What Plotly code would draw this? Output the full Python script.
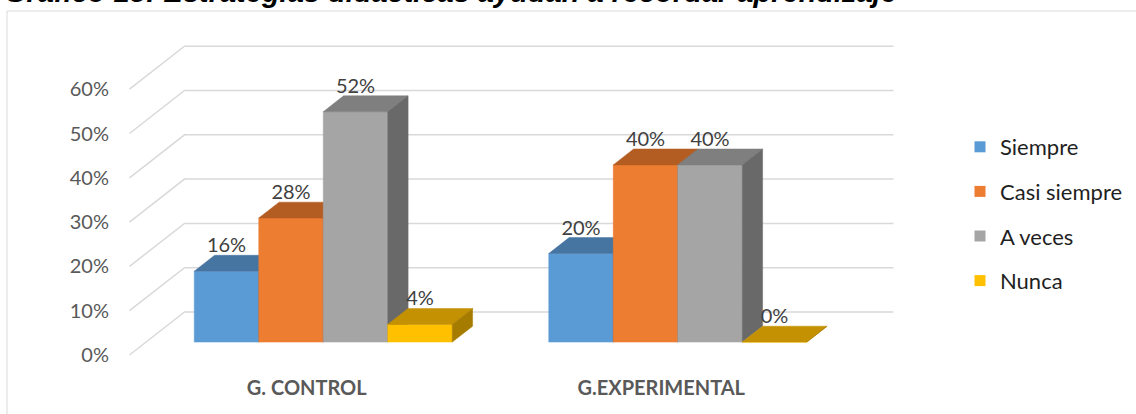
import plotly.graph_objects as go

# ---------------- data ----------------
categories = ["G. CONTROL", "G.EXPERIMENTAL"]
series_names = ["Siempre", "Casi siempre", "A veces", "Nunca"]
siempre = [16, 20]
casi_siempre = [28, 40]
a_veces = [52, 40]
nunca = [4, 0]
y_ticks = [0, 10, 20, 30, 40, 50, 60]
y_tick_labels = ["0%", "10%", "20%", "30%", "40%", "50%", "60%"]
title_text = "Gráfico 15: Estrategias didácticas ayudan a recordar aprendizaje"

series_values = [siempre, casi_siempre, a_veces, nunca]

# ---------------- style ----------------
front_colors = ["#5B9BD5", "#ED7D31", "#A5A5A5", "#FFC000"]
top_colors = ["#4675A2", "#B45D23", "#7F7F7F", "#C49102"]
side_colors = ["#3E6890", "#9E521F", "#696969", "#A67C00"]

W, H = 1136, 414
ML, MR, MT, MB = 118, 176, 40, 44
PW, PH = W - ML - MR, H - MT - MB
PX_PER_PCT = 4.43
PX_PER_CAT = 354.5
DEPTH_X = 55 / PX_PER_CAT      # oblique depth of the chart box (category units)
DEPTH_Y = 43 / PX_PER_PCT      # oblique depth of the chart box (percent units)
BAR_PLANE = 0.30               # depth fraction where bar fronts sit
BAR_DEPTH = 0.37               # depth fraction of each bar
BAR_W = 64.5 / PX_PER_CAT
FRONT_ZERO_PX = 355
FLOOR_LEFT_PX = 129.5

x_lo, x_hi = -0.5, len(categories) - 0.5
x_min = x_lo - (FLOOR_LEFT_PX - ML) / PX_PER_CAT
x_max = x_min + PW / PX_PER_CAT
y_min = -(MT + PH - FRONT_ZERO_PX) / PX_PER_PCT
y_max = y_min + PH / PX_PER_PCT

fig = go.Figure()

# back wall / side wall gridlines
gx, gy = [], []
for v in y_ticks:
    gx += [x_lo, x_lo + DEPTH_X, x_hi + DEPTH_X, None]
    gy += [v, v + DEPTH_Y, v + DEPTH_Y, None]
fig.add_trace(go.Scatter(x=gx, y=gy, mode="lines", line=dict(color="#D9D9D9", width=1.5),
                         hoverinfo="skip", showlegend=False))

base = BAR_PLANE * DEPTH_Y
ddx = BAR_DEPTH * DEPTH_X
ddy = BAR_DEPTH * DEPTH_Y
nser = len(series_names)
lab_x, lab_y, lab_t = [], [], []
for s, (name, vals) in enumerate(zip(series_names, series_values)):
    fx, fy, tx, ty, sx, sy = [], [], [], [], [], []
    for i, v in enumerate(vals):
        x0 = i + BAR_PLANE * DEPTH_X - nser / 2 * BAR_W + s * BAR_W
        x1 = x0 + BAR_W
        top = base + v
        fx += [x0, x1, x1, x0, x0, None]
        fy += [base, base, top, top, base, None]
        tx += [x0, x1, x1 + ddx, x0 + ddx, x0, None]
        ty += [top, top, top + ddy, top + ddy, top, None]
        sx += [x1, x1 + ddx, x1 + ddx, x1, x1, None]
        sy += [base, base + ddy, top + ddy, top, base, None]
        lab_x.append((x0 + x1) / 2)
        lab_y.append(top + ddy + 8 / PX_PER_PCT)
        lab_t.append(f"{v}%")
    for xs, ys, col in [(fx, fy, front_colors[s]), (tx, ty, top_colors[s]), (sx, sy, side_colors[s])]:
        fig.add_trace(go.Scatter(x=xs, y=ys, mode="lines", fill="toself", fillcolor=col,
                                 line=dict(color=col, width=0.5), hoverinfo="skip",
                                 showlegend=False))

# data labels
fig.add_trace(go.Scatter(x=lab_x, y=lab_y, text=lab_t, mode="text", textposition="middle center",
                         textfont=dict(family="Lato", size=20, color="#404040"),
                         hoverinfo="skip", showlegend=False))

# legend entries
for s, name in enumerate(series_names):
    fig.add_trace(go.Scatter(x=[None], y=[None], mode="markers", name=name, legendgroup=name,
                             marker=dict(symbol="square", size=11, color=front_colors[s],
                                         line=dict(width=0))))

def px_to_paper_x(px):
    return (px - ML) / PW

def px_to_paper_y(py):
    return 1 - (py - MT) / PH

fig.update_layout(
    width=W, height=H,
    margin=dict(l=ML, r=MR, t=MT, b=MB, autoexpand=False),
    paper_bgcolor="white", plot_bgcolor="white",
    xaxis=dict(range=[x_min, x_max], tickvals=list(range(len(categories))), ticktext=categories,
               showgrid=False, zeroline=False, showline=False, ticks="",
               tickfont=dict(family="Lato", size=20, color="#595959", weight="bold"),
               ticklabelstandoff=4),
    yaxis=dict(range=[y_min, y_max], tickvals=y_ticks, ticktext=y_tick_labels,
               showgrid=False, zeroline=False, showline=False, ticks="",
               tickfont=dict(family="Lato", size=20, color="#595959"),
               ticklabelstandoff=8),
    legend=dict(x=px_to_paper_x(960), xanchor="left", y=px_to_paper_y(126), yanchor="top",
                font=dict(family="Lato", size=22, color="#1F1F1F"), tracegroupgap=13,
                bgcolor="rgba(0,0,0,0)", itemclick=False),
    shapes=[dict(type="rect", xref="paper", yref="paper", layer="below",
                 x0=px_to_paper_x(7), x1=px_to_paper_x(1145),
                 y0=px_to_paper_y(425), y1=px_to_paper_y(11),
                 line=dict(color="#D9D9D9", width=1), fillcolor="rgba(0,0,0,0)")],
    annotations=[dict(text="<b><i>" + title_text + "</i></b>", xref="paper", yref="paper",
                      x=px_to_paper_x(2), xanchor="left", y=px_to_paper_y(-8), yanchor="middle",
                      showarrow=False, font=dict(family="Liberation Sans", size=29, color="#000000"))],
)

fig.write_html("out.html", config={"displayModeBar": False},
               post_script="document.body.style.margin='0';document.body.style.overflow='hidden';")
